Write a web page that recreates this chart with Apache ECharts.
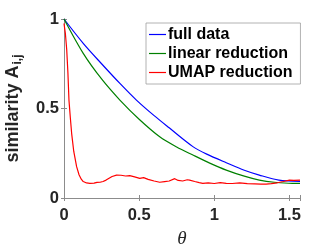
<!DOCTYPE html>
<html>
<head>
<meta charset="utf-8">
<script src="https://cdn.jsdelivr.net/npm/echarts@6/dist/echarts.min.js"></script>
<style>html,body{margin:0;padding:0;background:#fff}#c{width:332px;height:249px}</style>
</head>
<body>
<div id="c"></div>
<script>
var xTicks = [0, 0.5, 1, 1.5];
var yTicks = [0, 0.5, 1];

var thetaFull = [0, 0.128, 0.25, 0.372, 0.482, 0.6, 0.7, 0.858, 0.95, 1.08, 1.2, 1.3, 1.43, 1.5708];
var fullData  = [1.0, 0.864, 0.75, 0.64, 0.547, 0.46, 0.392, 0.287, 0.245, 0.197, 0.155, 0.128, 0.10, 0.093];

var thetaLinear = [0, 0.128, 0.25, 0.372, 0.5, 0.637, 0.75, 0.858, 0.97, 1.08, 1.2, 1.3, 1.4, 1.52, 1.5708];
var linearData  = [1.0, 0.808, 0.665, 0.547, 0.44, 0.342, 0.285, 0.24, 0.195, 0.156, 0.122, 0.10, 0.088, 0.082, 0.082];

var thetaUmap = [0, 0.009, 0.018, 0.026, 0.033, 0.042, 0.051, 0.065, 0.084, 0.1, 0.115, 0.128, 0.15, 0.172, 0.2, 0.22, 0.24, 0.26, 0.28, 0.3, 0.32, 0.35, 0.38, 0.41, 0.438, 0.47, 0.504, 0.53, 0.56, 0.6, 0.637, 0.67, 0.7, 0.737, 0.76, 0.79, 0.82, 0.836, 0.87, 0.9, 0.924, 0.96, 1.0, 1.04, 1.08, 1.12, 1.17, 1.22, 1.27, 1.31, 1.345, 1.38, 1.42, 1.46, 1.5, 1.53, 1.5708];
var umapData  = [0.975, 0.92, 0.83, 0.70, 0.547, 0.45, 0.36, 0.26, 0.175, 0.13, 0.105, 0.092, 0.084, 0.082, 0.083, 0.087, 0.088, 0.092, 0.10, 0.11, 0.12, 0.128, 0.127, 0.123, 0.125, 0.118, 0.11, 0.114, 0.104, 0.095, 0.088, 0.092, 0.095, 0.108, 0.098, 0.095, 0.102, 0.10, 0.092, 0.086, 0.082, 0.085, 0.081, 0.086, 0.082, 0.081, 0.085, 0.08, 0.079, 0.078, 0.077, 0.08, 0.085, 0.092, 0.10, 0.098, 0.10];

function pairs(xs, ys) { return xs.map(function (x, i) { return [x, ys[i]]; }); }

var axisGray = '#8c8c8c';
var txt = '#262626';
var font = 'Liberation Sans, Arial, Helvetica, sans-serif';

var chart = echarts.init(document.getElementById('c'), null, {renderer: 'canvas'});
var xMax = Math.PI / 2;
var baseX = {
  type: 'value', min: 0, max: xMax, interval: 0.5,
  axisLine: {show: true, lineStyle: {color: axisGray, width: 1}},
  axisTick: {show: true, inside: true, length: 3, lineStyle: {color: axisGray}},
  splitLine: {show: false}
};
var baseY = {
  type: 'value', min: 0, max: 1, interval: 0.5,
  axisLine: {show: true, lineStyle: {color: axisGray, width: 1}},
  axisTick: {show: true, inside: true, length: 3, lineStyle: {color: axisGray}},
  splitLine: {show: false}
};
chart.setOption({
  animation: false,
  grid: {left: 64, right: 32, top: 19, bottom: 51, containLabel: false, outerBoundsMode: 'none'},
  legend: {
    orient: 'vertical', left: 146, top: 23,
    padding: [2, 8, 2, 3], itemGap: 0,
    itemWidth: 17, itemHeight: 1.2,
    backgroundColor: '#fff', borderColor: '#a0a0a0', borderWidth: 0.8, borderRadius: 0,
    icon: 'rect',
    textStyle: {fontFamily: font, fontWeight: 'bold', fontSize: 16, color: '#000', lineHeight: 19, padding: [0, 0, 0, -3]},
    data: ['full data', 'linear reduction', 'UMAP reduction']
  },
  xAxis: [
    Object.assign({}, baseX, {
      position: 'bottom',
      name: 'θ', nameLocation: 'middle', nameGap: 31,
      nameTextStyle: {fontFamily: 'Liberation Serif, Times New Roman, serif', fontStyle: 'italic', fontSize: 19, color: txt},
      axisLabel: {show: true, margin: 9, fontFamily: font, fontWeight: 'bold', fontSize: 16.5, color: txt,
        formatter: function (v) { return xTicks.indexOf(Math.round(v * 10) / 10) >= 0 ? String(Math.round(v * 10) / 10) : ''; }}
    }),
    Object.assign({}, baseX, {position: 'top', axisLabel: {show: false}})
  ],
  yAxis: [
    Object.assign({}, baseY, {
      position: 'left',
      name: 'similarity A{sub|i,j}', nameLocation: 'middle', nameGap: 40,
      nameTextStyle: {fontFamily: font, fontWeight: 'bold', fontSize: 18, color: txt,
        rich: {sub: {fontFamily: font, fontWeight: 'bold', fontSize: 12, color: txt, verticalAlign: 'bottom', padding: [9, 0, 0, 1]}}},
      axisLabel: {show: true, margin: 5, fontFamily: font, fontWeight: 'bold', fontSize: 16.5, color: txt,
        formatter: function (v) { return yTicks.indexOf(v) >= 0 ? String(v) : ''; }}
    }),
    Object.assign({}, baseY, {position: 'right', axisLabel: {show: false}})
  ],
  series: [
    {name: 'full data', type: 'line', data: pairs(thetaFull, fullData), symbol: 'none', smooth: 0.3,
      lineStyle: {color: '#0000ff', width: 1.2}, itemStyle: {color: '#0000ff'}},
    {name: 'linear reduction', type: 'line', data: pairs(thetaLinear, linearData), symbol: 'none', smooth: 0.3,
      lineStyle: {color: '#008000', width: 1.2}, itemStyle: {color: '#008000'}},
    {name: 'UMAP reduction', type: 'line', data: pairs(thetaUmap, umapData), symbol: 'none',
      lineStyle: {color: '#ff0000', width: 1.2}, itemStyle: {color: '#ff0000'}}
  ]
});
</script>
</body>
</html>
